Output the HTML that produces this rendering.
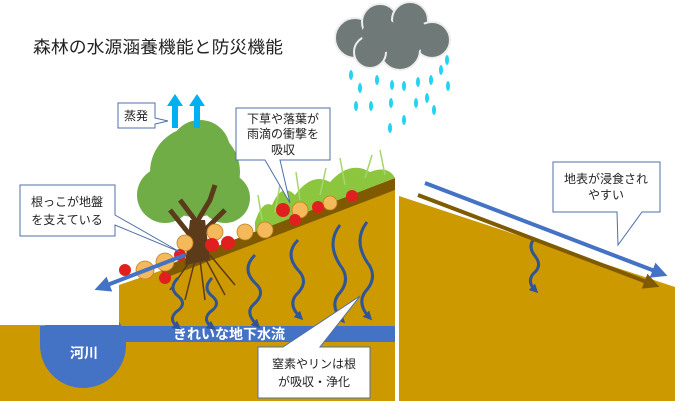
<!DOCTYPE html>
<html><head><meta charset="utf-8"><style>
html,body{margin:0;padding:0;background:#fff;}
svg{display:block;font-family:"Liberation Sans","Noto Sans CJK JP",sans-serif;}
</style></head><body>
<svg width="683" height="401" viewBox="0 0 683 401" xmlns="http://www.w3.org/2000/svg">
<defs>
<marker id="ab" markerWidth="4" markerHeight="4" refX="2" refY="2" orient="auto" markerUnits="strokeWidth"><path d="M0,0 L4,2 L0,4 Z" fill="#4472c4"/></marker>
<marker id="ar" markerWidth="4" markerHeight="4" refX="2" refY="2" orient="auto" markerUnits="strokeWidth"><path d="M0,0 L4,2 L0,4 Z" fill="#7f5a00"/></marker>
<marker id="aw" markerWidth="3" markerHeight="3" refX="1.5" refY="1.5" orient="auto" markerUnits="strokeWidth"><path d="M0,0 L3,1.5 L0,3 Z" fill="#2f5597"/></marker>
</defs>
<text x="33" y="53" font-size="17" fill="#222" textLength="250" lengthAdjust="spacingAndGlyphs">森林の水源涵養機能と防災機能</text>
<!-- cloud -->
<g fill="#6f7a78" stroke="#eee" stroke-width="2">
<circle cx="355" cy="38" r="20"/><circle cx="380" cy="22" r="18"/><circle cx="410" cy="20" r="18"/><circle cx="432" cy="40" r="18"/><circle cx="400" cy="50" r="20"/><circle cx="370" cy="52" r="16"/>
</g>
<g fill="#6f7a78"><circle cx="380" cy="35" r="18"/><circle cx="410" cy="35" r="18"/></g>
<!-- rain -->
<g fill="#22d3f2">
<ellipse cx="351" cy="75" rx="2" ry="5"/><ellipse cx="360" cy="88" rx="2" ry="5"/><ellipse cx="377" cy="80" rx="2" ry="5"/><ellipse cx="392" cy="85" rx="2" ry="5"/><ellipse cx="404" cy="86" rx="2" ry="5"/><ellipse cx="418" cy="82" rx="2" ry="5"/><ellipse cx="431" cy="80" rx="2" ry="5"/><ellipse cx="448" cy="86" rx="2" ry="5"/><ellipse cx="447" cy="60" rx="2" ry="5"/><ellipse cx="441" cy="70" rx="2" ry="5"/>
<ellipse cx="356" cy="106" rx="2" ry="5"/><ellipse cx="371" cy="106" rx="2" ry="5"/><ellipse cx="391" cy="103" rx="2" ry="5"/><ellipse cx="416" cy="103" rx="2" ry="5"/><ellipse cx="427" cy="98" rx="2" ry="5"/><ellipse cx="434" cy="110" rx="2" ry="5"/><ellipse cx="404" cy="120" rx="2" ry="5"/><ellipse cx="390" cy="128" rx="2" ry="5"/>
</g>
<!-- ground -->
<rect x="0" y="325" width="395" height="76" fill="#cc9900"/>
<polygon points="119,285 395,190 395,401 119,401" fill="#cc9900"/>
<polygon points="160,268 395,178 395,190 165,278" fill="#7f5a00"/>
<polygon points="399,196 675,287 675,401 399,401" fill="#cc9900"/>
<!-- grass -->
<path d="M255,222 Q262,200 272,205 Q282,182 295,195 Q312,172 330,182 Q350,160 370,172 Q388,165 395,178 L255,232 Z" fill="#8cc63f"/>
<g stroke="#a5d66a" stroke-width="1.5" fill="none"><path d="M262,220 L258,195 M275,212 L280,185 M300,200 L296,172 M320,195 L326,168 M345,185 L340,158 M365,178 L372,155 M385,175 L380,150"/></g>
<!-- water -->
<rect x="40" y="326" width="355" height="16" fill="#4472c4"/>
<circle cx="83" cy="345" r="43" fill="#4472c4"/>
<rect x="0" y="300" width="119" height="25" fill="#fff"/>
<text x="70" y="358" font-size="14" fill="#fff" font-weight="bold">河川</text>
<text x="173" y="339" font-size="14" fill="#fff" font-weight="bold">きれいな地下水流</text>
<!-- tree -->
<g fill="#70ad47">
<circle cx="195" cy="172" r="45"/><circle cx="165" cy="195" r="28"/><circle cx="225" cy="198" r="25"/><circle cx="200" cy="150" r="30"/>
</g>
<path d="M190,260 L195,220 L180,200 M195,225 L210,200 L215,185 M200,235 L225,210 M190,235 L170,210" stroke="#5c3b1a" stroke-width="5" fill="none"/>
<path d="M185,265 L190,220 L205,220 L210,260 Z" fill="#5c3b1a"/>
<g stroke="#5c3b1a" stroke-width="1.5" fill="none"><path d="M195,260 L185,300 M200,260 L205,300 M205,258 L225,295 M192,258 L170,290 M210,255 L235,285"/></g>
<!-- leaves -->
<g fill="#f4b95a" stroke="#c08020" stroke-width="0.8">
<circle cx="145" cy="270" r="9"/><circle cx="165" cy="262" r="9"/><circle cx="185" cy="243" r="8"/><circle cx="215" cy="232" r="8"/><circle cx="245" cy="232" r="8"/><circle cx="265" cy="230" r="8"/><circle cx="300" cy="210" r="8"/><circle cx="330" cy="203" r="7"/>
</g>
<g fill="#e0201f">
<circle cx="125" cy="270" r="6"/><circle cx="180" cy="255" r="6"/><circle cx="165" cy="278" r="6"/><circle cx="212" cy="245" r="7"/><circle cx="228" cy="243" r="7"/><circle cx="283" cy="210" r="7"/><circle cx="295" cy="220" r="6"/><circle cx="318" cy="207" r="6"/><circle cx="352" cy="196" r="6"/>
</g>
<!-- wavy arrows -->
<g stroke="#2f5597" stroke-width="3" fill="none" marker-end="url(#aw)">
<path d="M178,278 q-10,10 0,18 q10,8 -2,16 q-8,8 2,15"/>
<path d="M212,278 q-10,10 0,18 q10,8 -2,16 q-8,8 2,15"/>
<path d="M255,255 q-14,14 0,28 q12,10 -2,22 q-8,8 4,20"/>
<path d="M298,240 q-14,14 0,30 q12,12 -2,25 q-8,10 4,22"/>
<path d="M340,225 q-14,18 0,40 q12,15 -2,30 q-8,12 4,25"/>
<path d="M367,222 q-14,18 0,40 q12,15 -2,30 q-8,12 4,25"/>
<path d="M535,238 q-8,8 0,18 q8,10 -2,18 q-6,8 2,16"/>
</g>
<!-- cyan arrows -->
<g fill="#00b0f0"><path d="M172,128 L172,106 L167,106 L175,94 L183,106 L178,106 L178,128 Z"/><path d="M194,128 L194,106 L189,106 L197,94 L205,106 L200,106 L200,128 Z"/></g>
<!-- slope arrows -->
<line x1="185" y1="255" x2="102" y2="287" stroke="#4472c4" stroke-width="4" marker-end="url(#ab)"/>
<line x1="425" y1="183" x2="660" y2="273" stroke="#4472c4" stroke-width="4" marker-end="url(#ab)"/>
<line x1="418" y1="195" x2="652" y2="284" stroke="#7f5a00" stroke-width="4" marker-end="url(#ar)"/>
<!-- callouts -->
<g fill="#fff" stroke="#4f6fa8" stroke-width="1">
<path d="M118,103 H155 V118 L168,121 L155,124 V128 H118 Z"/>
<path d="M236,108 H330 V160 H280 L290,203 L265,160 H236 Z"/>
<path d="M20,185 H115 V215 L180,252 L115,225 V236 H20 Z"/>
<path d="M258,347 H283 L360,296 L320,347 H370 V398 H258 Z"/>
<path d="M553,162 H660 V212 H642 L618,245 L617,212 H553 Z"/>
</g>
<g font-size="12" fill="#222" text-anchor="middle">
<text x="136" y="120">蒸発</text>
<text x="283" y="123">下草や落葉が</text><text x="283" y="138">雨滴の衝撃を</text><text x="283" y="154">吸収</text>
<text x="67" y="206">根っこが地盤</text><text x="67" y="224">を支えている</text>
<text x="314" y="368">窒素やリンは根</text><text x="314" y="386">が吸収・浄化</text>
<text x="606" y="183">地表が浸食され</text><text x="606" y="199">やすい</text>
</g>
</svg>
</body></html>
